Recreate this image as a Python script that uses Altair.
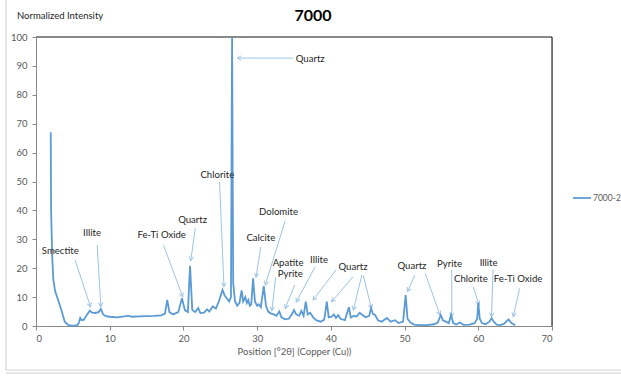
import altair as alt
import pandas as pd
import math

# ---- data: XRD pattern (position °2θ, normalized intensity) ----
pos = [2.0, 2.05, 2.2, 2.35, 2.6, 3.0, 3.5, 3.9, 4.4, 4.8, 5.3, 5.6, 5.8, 6.0, 6.2, 6.5, 6.8, 7.3, 7.6,
       8.0, 8.5, 8.8, 9.1, 9.5, 10.0, 11.0, 12.0, 12.5, 13.0, 14.0, 15.0, 16.0, 17.0, 17.5, 17.8, 18.1,
       18.6, 19.3, 19.8, 20.2, 20.6, 20.9, 21.2, 21.6, 22.0, 22.3, 22.8, 23.2, 23.5, 24.0, 24.4, 24.8,
       25.3, 25.6, 25.9, 26.2, 26.45, 26.6, 26.75, 27.0, 27.3, 27.6, 27.9, 28.1, 28.4, 28.6, 28.8, 29.0,
       29.2, 29.45, 29.7, 30.0, 30.2, 30.5, 30.9, 31.2, 31.5, 31.9, 32.3, 32.6, 33.0, 33.3, 33.8, 34.3,
       34.7, 35.0, 35.3, 35.7, 36.0, 36.3, 36.6, 36.85, 37.2, 37.6, 38.0, 38.6, 39.1, 39.45, 39.7, 40.1,
       40.4, 40.7, 41.0, 41.3, 41.9, 42.45, 42.7, 43.1, 43.5, 43.9, 44.3, 44.7, 45.2, 45.45, 45.7, 46.0,
       46.4, 46.9, 47.6, 48.1, 48.7, 49.2, 49.8, 50.15, 50.4, 50.8, 51.3, 52.0, 53.0, 54.0, 54.5, 54.9,
       55.2, 55.6, 56.0, 56.3, 56.6, 57.0, 57.5, 58.0, 58.8, 59.5, 59.85, 60.0, 60.2, 60.5, 61.0, 61.5,
       61.8, 62.1, 62.5, 63.0, 63.5, 64.1, 64.5, 65.0]
intensity = [67.0, 40.0, 24.0, 16.0, 12.0, 9.0, 5.0, 1.5, 0.3, 0.1, 0.1, 0.3, 1.0, 2.8, 2.0, 2.2, 3.5, 5.3, 4.6,
             4.5, 4.8, 5.9, 4.0, 3.4, 3.2, 3.0, 3.3, 3.6, 3.2, 3.3, 3.4, 3.5, 3.7, 4.3, 9.0, 4.8,
             4.0, 4.8, 9.6, 5.5, 4.8, 20.8, 5.5, 4.8, 6.2, 4.5, 4.6, 5.8, 5.0, 6.8, 6.0, 8.5,
             12.5, 10.5, 9.5, 8.5, 10.0, 100.0, 15.0, 8.5, 7.0, 8.0, 12.3, 8.5, 10.0, 8.0, 9.0, 7.0,
             7.5, 16.5, 8.5, 7.0, 7.5, 6.5, 13.8, 7.0, 5.0, 4.3, 4.0, 3.5, 5.0, 3.0, 2.3, 2.5,
             4.0, 5.5, 4.0, 3.5, 5.2, 3.5, 8.4, 4.0, 4.6, 3.0, 2.0, 1.5, 2.2, 8.4, 3.0, 3.2,
             4.0, 2.8, 3.8, 2.5, 2.0, 6.5, 3.0, 3.5, 3.3, 4.6, 3.8, 3.0, 3.5, 6.2, 4.2, 3.8,
             2.0, 1.5, 2.8, 1.5, 2.0, 1.0, 1.5, 10.7, 2.5, 1.2, 0.5, 0.3, 0.3, 0.6, 1.2, 3.8,
             2.0, 1.5, 1.0, 3.8, 1.0, 0.5, 1.2, 0.4, 0.5, 1.0, 2.5, 8.0, 2.5, 1.0, 0.6, 1.5,
             2.7, 1.5, 0.5, 0.3, 0.8, 2.3, 1.0, 0.3]
series_name = "7000-2"

# ---- annotation labels and arrows (data coordinates) ----
label_text = ["Quartz", "Chlorite", "Smectite", "Illite", "Fe-Ti Oxide", "Quartz", "Dolomite", "Calcite",
              "Apatite", "Pyrite", "Illite", "Quartz", "Quartz", "Pyrite", "Illite", "Chlorite", "Fe-Ti Oxide"]
label_x = [37.2, 24.6, 3.3, 7.6, 17.05, 21.25, 32.9, 30.5, 34.2, 34.5, 38.4, 43.0, 51.0, 56.1, 61.4, 59.0, 65.4]
label_y = [92.4, 52.2, 26.0, 32.2, 31.5, 36.7, 39.5, 30.3, 21.9, 17.9, 22.8, 20.5, 20.8, 21.5, 21.7, 16.2, 16.2]

arrow_x1 = [34.9, 24.9, 5.3, 8.3, 17.3, 21.6, 33.8, 30.5, 32.5, 35.1, 37.85, 40.7, 43.0, 44.2, 44.4, 51.4, 52.8, 56.4, 62.0, 59.3, 65.6]
arrow_y1 = [92.7, 49.8, 22.8, 28.0, 28.0, 33.9, 36.4, 27.4, 16.8, 14.2, 20.4, 19.4, 17.0, 17.6, 17.6, 17.6, 18.2, 19.4, 19.4, 13.6, 13.0]
arrow_x2 = [27.3, 25.5, 7.4, 8.8, 19.9, 21.0, 31.1, 29.85, 32.0, 33.8, 35.3, 37.6, 40.1, 43.05, 45.5, 50.4, 54.8, 56.4, 61.8, 60.1, 64.75]
arrow_y2 = [92.7, 13.6, 6.6, 6.7, 10.1, 22.6, 14.2, 16.9, 5.3, 6.1, 8.3, 9.0, 8.4, 5.5, 6.1, 11.9, 3.8, 3.2, 3.2, 7.3, 3.2]

# ---- layout ----
W, H = 516, 289
XMAX, YMAX = 70, 100
LINE = "#5B9BD5"
ARROW = "#9DC3E6"
FONT = "Lato"

df = pd.DataFrame({"pos": pos, "intensity": intensity})
lab = pd.DataFrame({"t": label_text, "x": label_x, "y": label_y})
arr = pd.DataFrame({"x1": arrow_x1, "y1": arrow_y1, "x2": arrow_x2, "y2": arrow_y2})
px_x = W / XMAX
px_y = H / YMAX
arr["ang"] = [
    (math.degrees(math.atan2((b - a) * px_x, (d - c) * px_y)) % 360)
    for a, b, c, d in zip(arr.x1, arr.x2, arr.y1, arr.y2)
]

xs = alt.Scale(domain=[0, XMAX], nice=False)
ys = alt.Scale(domain=[0, YMAX], nice=False)

line = alt.Chart(df).mark_line(color=LINE, strokeWidth=1.8, interpolate="linear").encode(
    x=alt.X("pos:Q", scale=xs, axis=alt.Axis(
        values=list(range(0, 71, 10)), tickCount=20, title="Position [°2θ]  (Copper (Cu))", grid=False,
        domainColor="#898989", tickColor="#898989", tickSize=4, labelFontSize=9.5, labelColor="#595959",
        labelFont=FONT, labelPadding=3, labelOverlap=False, titleFont=FONT, titleFontSize=9.5,
        titleFontWeight="normal", titleColor="#595959", titlePadding=4)),
    y=alt.Y("intensity:Q", scale=ys, axis=alt.Axis(
        values=list(range(0, 101, 10)), tickCount=20, title=None, grid=False, domainColor="#898989",
        tickColor="#898989", tickSize=4, labelFontSize=9.5, labelColor="#595959", labelFont=FONT,
        labelPadding=5, labelOverlap=False)),
)

arrows = alt.Chart(arr).mark_rule(color=ARROW, strokeWidth=1).encode(
    x=alt.X("x1:Q", scale=xs), y=alt.Y("y1:Q", scale=ys), x2="x2:Q", y2="y2:Q"
)
heads = alt.Chart(arr).mark_point(
    shape="M -0.55 1 L 0 0 L 0.55 1", filled=False, color=ARROW, strokeWidth=1, size=64, opacity=1
).encode(
    x=alt.X("x2:Q", scale=xs), y=alt.Y("y2:Q", scale=ys), angle=alt.Angle("ang:Q", scale=None)
)
labels = alt.Chart(lab).mark_text(font=FONT, fontSize=9.6, color="#262626", align="center", baseline="middle").encode(
    x=alt.X("x:Q", scale=xs), y=alt.Y("y:Q", scale=ys), text="t:N"
)

one = pd.DataFrame({"k": [0]})
top_border = alt.Chart(one).mark_rule(color="#898989", strokeWidth=2).encode(
    x=alt.value(0), x2=alt.value(W), y=alt.value(0))
right_border = alt.Chart(one).mark_rule(color="#000000", strokeWidth=1).encode(
    x=alt.value(W), y=alt.value(0), y2=alt.value(H))
frame_left = alt.Chart(one).mark_rule(color="#D0D0D0", strokeWidth=1).encode(
    x=alt.value(-30), y=alt.value(-37), y2=alt.value(333))
frame_bottom = alt.Chart(one).mark_rule(color="#D0D0D0", strokeWidth=1).encode(
    x=alt.value(-30), x2=alt.value(585), y=alt.value(333))
frame_bottom2 = alt.Chart(one).mark_rule(color="#D0D0D0", strokeWidth=1).encode(
    x=alt.value(-30), x2=alt.value(585), y=alt.value(336))

title = alt.Chart(one).mark_text(font=FONT, fontSize=16, fontWeight="bold", color="#000000",
                                  align="center", baseline="middle").encode(
    x=alt.value(277), y=alt.value(-21), text=alt.value("7000"))
ytitle = alt.Chart(one).mark_text(font=FONT, fontSize=9.5, color="#262626", align="left",
                                   baseline="middle").encode(
    x=alt.value(-19), y=alt.value(-21), text=alt.value("Normalized Intensity"))
leg_line = alt.Chart(one).mark_rule(color=LINE, strokeWidth=1.8).encode(
    x=alt.value(537), x2=alt.value(555), y=alt.value(161))
leg_text = alt.Chart(one).mark_text(font=FONT, fontSize=8.5, color="#595959", align="left",
                                     baseline="middle").encode(
    x=alt.value(557), y=alt.value(161), text=alt.value(series_name))

chart = alt.layer(
    frame_left, frame_bottom, frame_bottom2, arrows, heads, line, labels, top_border, right_border,
    title, ytitle, leg_line, leg_text
).properties(
    width=W, height=H,
    autosize=alt.AutoSizeParams(type="none"),
    padding={"left": 36, "top": 37, "right": 69, "bottom": 51},
).configure_view(stroke=None).configure(background="white")

chart.save("out.html", embed_options={"renderer": "svg", "actions": False})
